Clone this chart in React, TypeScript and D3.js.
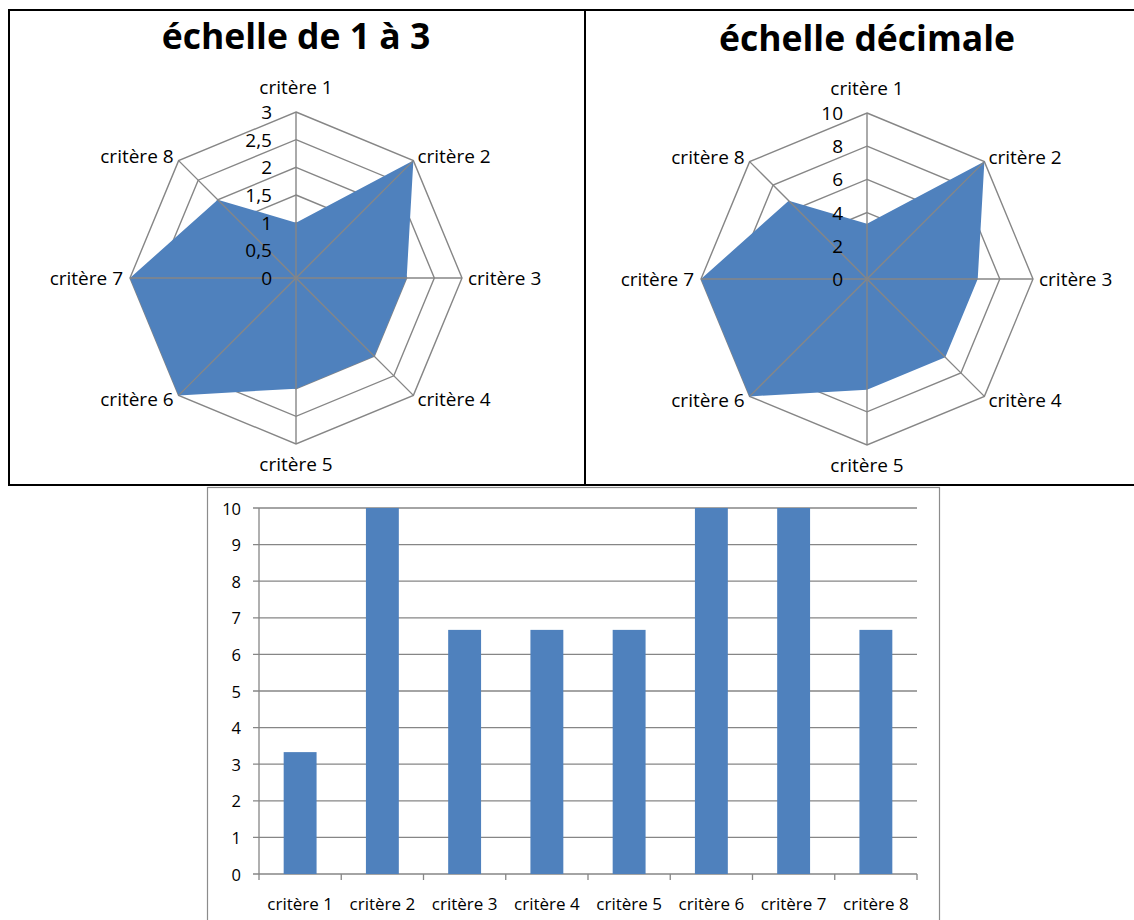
import React from "react";
import * as d3 from "d3";

const categories = ["critère 1", "critère 2", "critère 3", "critère 4", "critère 5", "critère 6", "critère 7", "critère 8"];
const scale3Values = [1, 3, 2, 2, 2, 3, 3, 2];
const scale3Ticks = [0, 0.5, 1, 1.5, 2, 2.5, 3];
const decimalValues = [3.33, 10, 6.67, 6.67, 6.67, 10, 10, 6.67];
const decimalTicks = [0, 2, 4, 6, 8, 10];
const barValues = [3.33, 10, 6.67, 6.67, 6.67, 10, 10, 6.67];
const barTicks = [0, 1, 2, 3, 4, 5, 6, 7, 8, 9, 10];

const FILL = "#4F81BD";
const GRID = "#868686";
const FONT = "'Open Sans', 'DejaVu Sans', sans-serif";

const fmt = (v: number) => String(v).replace(".", ",");

function Radar({ cx, cy, r, max, ticks, values, title, titleY }: any) {
  const rs = d3.scaleLinear().domain([0, max]).range([0, r]);
  const n = categories.length;
  const ang = (i: number) => (i * 2 * Math.PI) / n;
  const ringLine = d3
    .lineRadial<number>()
    .angle((_, i) => ang(i))
    .radius((d) => rs(d))
    .curve(d3.curveLinearClosed);
  const areaPath = ringLine(values) || "";
  const vx = (i: number, v: number) => cx + rs(v) * Math.sin(ang(i));
  const vy = (i: number, v: number) => cy - rs(v) * Math.cos(ang(i));
  const labelPos = (i: number) => {
    const x = vx(i, max);
    const y = vy(i, max);
    switch (i) {
      case 0: return { x, y: y - 25, anchor: "middle" };
      case 4: return { x, y: y + 20, anchor: "middle" };
      case 2: return { x: x + 6, y, anchor: "start" };
      case 6: return { x: x - 7, y, anchor: "end" };
      case 1: return { x: x + 4, y: y - 5, anchor: "start" };
      case 3: return { x: x + 4, y: y + 4, anchor: "start" };
      case 5: return { x: x - 5, y: y + 4, anchor: "end" };
      default: return { x: x - 5, y: y - 5, anchor: "end" };
    }
  };
  return (
    <g>
      <text x={cx} y={titleY} textAnchor="middle" fontFamily={FONT} fontWeight="bold" fontSize={35.5} fill="#000">
        {title}
      </text>
      <g transform={`translate(${cx},${cy})`}>
        {ticks.filter((t: number) => t > 0).map((t: number) => (
          <path key={t} d={ringLine(categories.map(() => t)) || ""} fill="none" stroke={GRID} strokeWidth={1.4} />
        ))}
        <path d={areaPath} fill={FILL} stroke="none" />
      </g>
      {categories.map((c, i) => (
        <line key={c} x1={cx} y1={cy} x2={vx(i, max)} y2={vy(i, max)} stroke={GRID} strokeWidth={1.4} />
      ))}
      {ticks.map((t: number) => (
        <text key={t} x={cx - 24} y={cy - rs(t)} textAnchor="end" dominantBaseline="central" fontFamily={FONT} fontSize={19} fill="#000">
          {fmt(t)}
        </text>
      ))}
      {categories.map((c, i) => {
        const p = labelPos(i);
        return (
          <text key={c} x={p.x} y={p.y} textAnchor={p.anchor} dominantBaseline="central" fontFamily={FONT} fontSize={19} fill="#000">
            {c}
          </text>
        );
      })}
    </g>
  );
}

function Bars() {
  const left = 259, right = 917, top = 508, bottom = 874;
  const x = d3.scaleBand<string>().domain(categories).range([left, right]).paddingInner(0.6).paddingOuter(0.3);
  const y = d3.scaleLinear().domain([0, 10]).range([bottom, top]);
  const step = x.step();
  return (
    <g>
      <rect x={207.5} y={487.5} width={732} height={445} fill="#fff" stroke="#8c8c8c" strokeWidth={1.2} />
      {barTicks.map((t) => (
        <g key={t}>
          <line x1={left - 6} x2={right} y1={y(t)} y2={y(t)} stroke={GRID} strokeWidth={1.3} />
          <text x={241} y={y(t)} textAnchor="end" dominantBaseline="central" fontFamily={FONT} fontSize={16.5} fill="#000">
            {t}
          </text>
        </g>
      ))}
      {categories.map((c, i) => (
        <rect key={c} x={x(c)} y={y(barValues[i])} width={x.bandwidth()} height={bottom - y(barValues[i])} fill={FILL} />
      ))}
      <line x1={left} x2={left} y1={top} y2={bottom} stroke={GRID} strokeWidth={1.3} />
      {d3.range(categories.length + 1).map((k) => (
        <line key={k} x1={left + k * step} x2={left + k * step} y1={bottom} y2={bottom + 6} stroke={GRID} strokeWidth={1.3} />
      ))}
      {categories.map((c) => (
        <text key={c} x={(x(c) as number) + x.bandwidth() / 2} y={903} textAnchor="middle" dominantBaseline="central" fontFamily={FONT} fontSize={17} fill="#000">
          {c}
        </text>
      ))}
    </g>
  );
}

export default function App() {
  return (
    <svg width={1134} height={920} style={{ position: "absolute", left: 0, top: 0, background: "#fff" }}>
      <rect x={0} y={0} width={1134} height={920} fill="#fff" />
      <Radar cx={296} cy={278} r={166} max={3} ticks={scale3Ticks} values={scale3Values} title="échelle de 1 à 3" titleY={49} />
      <Radar cx={867} cy={279} r={166} max={10} ticks={decimalTicks} values={decimalValues} title="échelle décimale" titleY={51} />
      <line x1={8} x2={1134} y1={10} y2={10} stroke="#000" strokeWidth={2} />
      <line x1={8} x2={1134} y1={485} y2={485} stroke="#000" strokeWidth={2} />
      <line x1={9} x2={9} y1={9} y2={486} stroke="#000" strokeWidth={2} />
      <line x1={585} x2={585} y1={9} y2={486} stroke="#000" strokeWidth={2} />
      <Bars />
    </svg>
  );
}
